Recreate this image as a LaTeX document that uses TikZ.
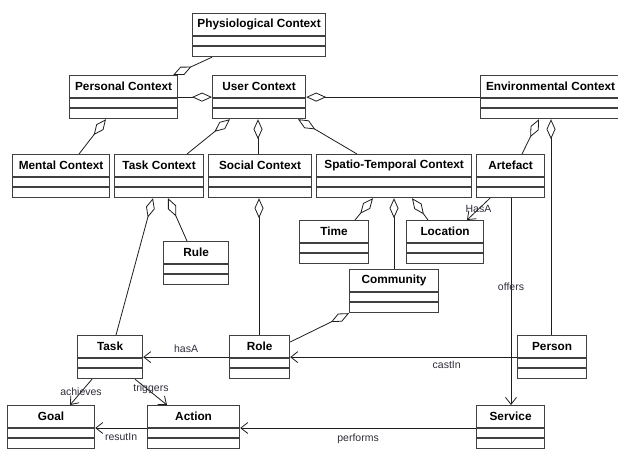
\documentclass[tikz,border=0pt]{standalone}
\usepackage{fontspec}
\setmainfont{Liberation Sans}
\usetikzlibrary{arrows.meta,calc}

\definecolor{boxline}{HTML}{404040}
\definecolor{wire}{HTML}{1E1E1E}
\definecolor{lbl}{HTML}{2E2E3A}

\tikzset{
  clsbox/.style={draw=boxline, line width=1.2pt, fill=white, inner sep=0pt,
                 minimum height=43pt, anchor=north west, rectangle},
  clsname/.style={font=\fontsize{11.8}{12}\selectfont\bfseries, text=black, inner sep=0pt},
  clsrule/.style={draw=boxline, line width=1.2pt},
  wirestyle/.style={draw=wire, line width=0.8pt},
  agg/.style={wirestyle, {Diamond[open, length=20pt, width=9pt, line width=0.8pt]}-},
  nav/.style={wirestyle, -{Straight Barb[length=7pt, width=11pt, line width=0.8pt]}},
  assoc/.style={font=\fontsize{10.5}{11}\selectfont, text=lbl, inner sep=1pt},
}

% UML class with a header and two empty compartments
\newcommand{\umlcls}[5]{%
  \node[clsbox, minimum width=#4pt] (#1) at (#2,#3) {};
  \node[clsname] at ([yshift=-11.5pt]#1.north) {#5};
  \draw[clsrule] ([yshift=-23pt]#1.north west) -- ([yshift=-23pt]#1.north east);
  \draw[clsrule] ([yshift=-33pt]#1.north west) -- ([yshift=-33pt]#1.north east);
}

\begin{document}
\begin{tikzpicture}[x=1pt, y=-1pt]
\useasboundingbox[fill=white] (0,0) rectangle (618,448);

% classes
\umlcls{phys}{192}{13}{133}{Physiological Context}
\umlcls{personal}{69}{75}{108}{Personal Context}
\umlcls{user}{212}{75}{93}{User Context}
\umlcls{env}{480}{75}{140}{Environmental Context}
\umlcls{mental}{12}{154}{97}{Mental Context}
\umlcls{taskctx}{114}{154}{89}{Task Context}
\umlcls{social}{208}{154}{103}{Social Context}
\umlcls{spatio}{316}{154}{155}{Spatio-Temporal Context}
\umlcls{artefact}{476}{154}{68}{Artefact}
\umlcls{rule}{163}{241}{65}{Rule}
\umlcls{time}{299}{220}{69}{Time}
\umlcls{location}{406}{220}{77}{Location}
\umlcls{community}{349}{269}{89}{Community}
\umlcls{task}{77}{335}{65}{Task}
\umlcls{role}{229}{335}{60}{Role}
\umlcls{person}{517}{335}{69}{Person}
\umlcls{goal}{7}{405}{87}{Goal}
\umlcls{action}{147}{405}{92}{Action}
\umlcls{service}{476}{405}{68}{Service}

% aggregations
\draw[agg] ([xshift=-5pt]personal.north east) -- ([xshift=20pt]phys.south west);
\draw[agg] (user.west) -- (personal.east);
\draw[agg] (user.east) -- (env.west);
\draw[agg] ([xshift=37pt]personal.south west) -- ([xshift=67pt]mental.north west);
\draw[agg] ([xshift=18pt]user.south west) -- ([xshift=73pt]taskctx.north west);
\draw[agg] ([xshift=46pt]user.south west) -- ([xshift=46pt]user.south west |- social.north);
\draw[agg] ([xshift=86pt]user.south west) -- ([xshift=41pt]spatio.north west);
\draw[agg] ([xshift=59pt]env.south west) -- ([xshift=46pt]artefact.north west);
\draw[agg] ([xshift=71pt]env.south west) -- ([xshift=71pt]env.south west |- person.north);
\draw[agg] ([xshift=39pt]taskctx.south west) -- ([xshift=39pt]task.north west);
\draw[agg] ([xshift=54pt]taskctx.south west) -- ([xshift=24pt]rule.north west);
\draw[agg] ([xshift=51pt]social.south west) -- ([xshift=51pt]social.south west |- role.north);
\draw[agg] ([xshift=57pt]spatio.south west) -- ([xshift=56pt]time.north west);
\draw[agg] ([xshift=78pt]spatio.south west) -- ([xshift=78pt]spatio.south west |- community.north);
\draw[agg] ([xshift=96pt]spatio.south west) -- ([xshift=22pt]location.north west);
\draw[agg] (community.south west) -- ([yshift=-7pt]role.north east);

% navigable associations
\draw[nav] ([xshift=14pt]artefact.south west) -- node[assoc] {HasA} ([xshift=61pt]location.north west);
\draw[nav] ([xshift=35pt]artefact.south west) -- node[assoc, pos=0.43] {offers} ([xshift=35pt]service.north west);
\draw[nav] (person.west) -- node[assoc, pos=0.31, below=3pt] {castIn} (role.east);
\draw[nav] (role.west) -- node[assoc, above=3pt] {hasA} (task.east);
\draw[nav] ([xshift=15pt]task.south west) -- node[assoc] {achieves} ([xshift=63pt]goal.north west);
\draw[nav] ([xshift=58pt]task.south west) -- node[assoc, yshift=3pt] {triggers} ([xshift=20pt]action.north west);
\draw[nav] ([yshift=-23pt]action.north west) -- node[assoc, below=4pt] {resutIn} ([yshift=-23pt]goal.north east);
\draw[nav] ([yshift=-23pt]service.north west) -- node[assoc, below=4pt] {performs} ([yshift=-23pt]action.north east);
\end{tikzpicture}
\end{document}
